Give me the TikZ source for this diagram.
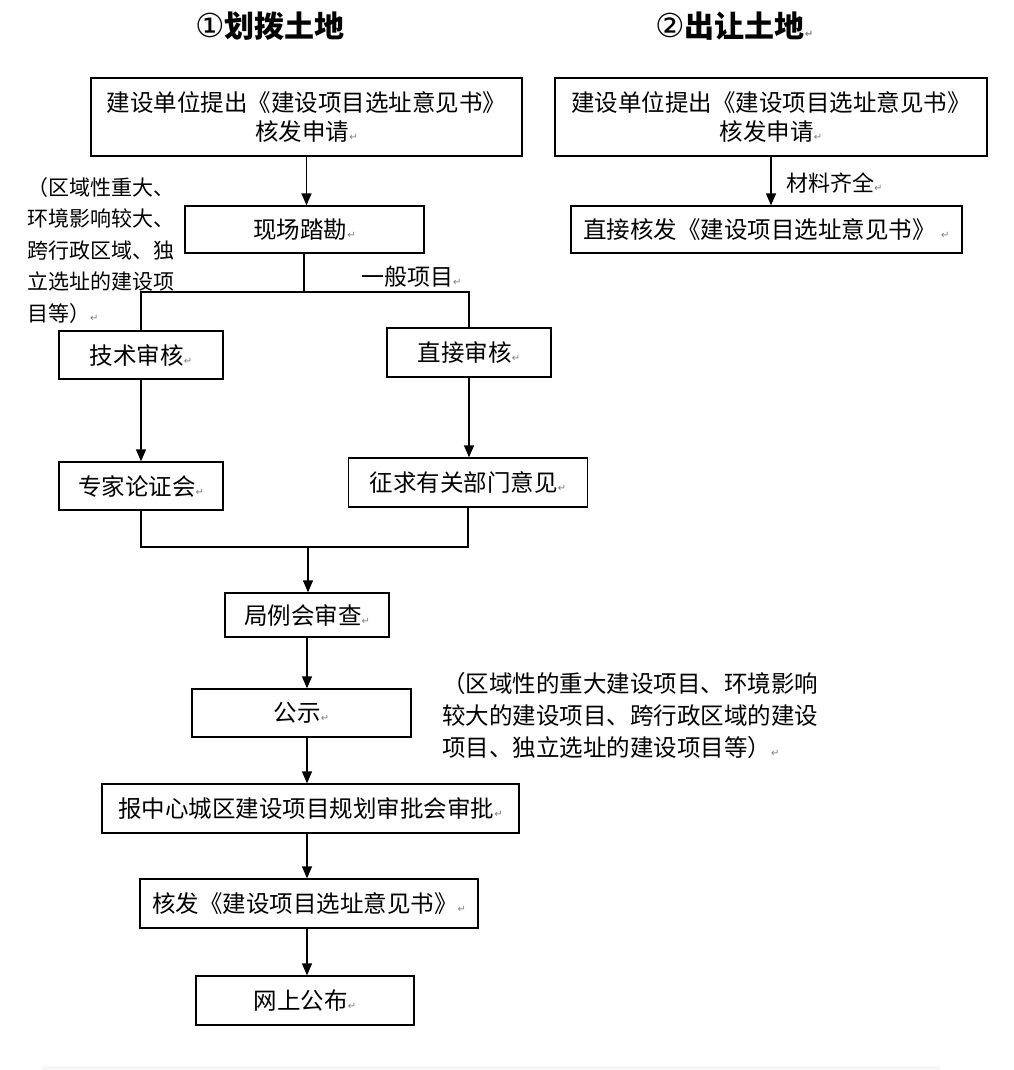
\documentclass[tikz,border=0pt]{standalone}
\usepackage{fontspec}
\setmainfont{Noto Sans CJK SC}
\newfontfamily\djv{DejaVu Sans}
\usetikzlibrary{arrows.meta}
\newcommand\rmk{{\djv\fontsize{10}{10}\selectfont\textcolor{black!50}{↵}}}
\newcommand\circnum[1]{{\djv\mdseries\fontsize{33}{33}\selectfont #1}}
\begin{document}
\begin{tikzpicture}[x=1pt,y=-1pt,
  box/.style={draw, line width=1.3pt, inner sep=0pt, align=center, font=\fontsize{23.5}{29.5}\selectfont},
  lnk/.style={line width=1.3pt},
  arr/.style={line width=1.3pt, -{Triangle[length=12pt,width=10pt]}},
  lab/.style={inner sep=0pt, anchor=west, font=\fontsize{22}{22}\selectfont},
  note/.style={inner sep=0pt, anchor=north west, align=left},
  ttl/.style={inner sep=0pt, font=\fontsize{30}{30}\selectfont\bfseries}]
\useasboundingbox (0,0) rectangle (1013,1070);
\fill[black!3] (42,1066) rectangle (940,1070);
% titles
\node[ttl] (t1) at (270,26) {\circnum{①}划拨土地};
\node[ttl, anchor=west] (t2) at (655,26) {\circnum{②}出让土地\rmk};
% left column boxes
\node[box, minimum width=431pt, minimum height=78pt] (a1) at (306.5,117) {建设单位提出《建设项目选址意见书》\\核发申请\rmk};
\node[box, minimum width=239pt, minimum height=47pt] (xc) at (304.5,229.5) {现场踏勘\rmk};
\node[box, minimum width=164pt, minimum height=48pt] (js) at (141,355) {技术审核\rmk};
\node[box, minimum width=164pt, minimum height=49pt] (zj) at (469,352.5) {直接审核\rmk};
\node[box, minimum width=164pt, minimum height=48pt] (zl) at (141,486) {专家论证会\rmk};
\node[box, minimum width=239pt, minimum height=49pt] (zq) at (468,482.5) {征求有关部门意见\rmk};
\node[box, minimum width=164pt, minimum height=44pt] (jl) at (307,615) {局例会审查\rmk};
\node[box, minimum width=219pt, minimum height=48pt] (gs) at (301.5,713) {公示\rmk};
\node[box, minimum width=417pt, minimum height=49pt] (bz) at (310.5,808.5) {报中心城区建设项目规划审批会审批\rmk};
\node[box, minimum width=338pt, minimum height=49pt] (hf) at (309,903.5) {核发《建设项目选址意见书》\rmk};
\node[box, minimum width=218pt, minimum height=49pt] (ws) at (305,1000.5) {网上公布\rmk};
% right column boxes
\node[box, minimum width=432pt, minimum height=78pt] (b1) at (771,117) {建设单位提出《建设项目选址意见书》\\核发申请\rmk};
\node[box, minimum width=391pt, minimum height=47pt] (b2) at (766.5,229.5) {直接核发《建设项目选址意见书》 \rmk};
% labels and notes
\node[lab] (cl) at (786,183) {材料齐全\rmk};
\node[lab, font=\fontsize{23}{23}\selectfont] (yb) at (361,277) {一般项目\rmk};
\node[note, font=\fontsize{21}{31.5}\selectfont] (ln) at (27,177) {（区域性重大、\\环境影响较大、\\跨行政区域、独\\立选址的建设项\\目等）\rmk};
\node[note, font=\fontsize{23.5}{32}\selectfont] (rn) at (442,672) {（区域性的重大建设项目、环境影响\\较大的建设项目、跨行政区域的建设\\项目、独立选址的建设项目等）\rmk};
% coordinates
\coordinate (sp) at (304,292);
\coordinate (mg) at (308,547);
% connectors
\draw[arr] (a1.south) -- (a1.south |- xc.north);
\draw[arr] (b1.south) -- (b1.south |- b2.north);
\draw[lnk] (xc.south -| sp) -- (sp);
\draw[lnk] (js.north) -- (js.north |- sp) -- (zj.north |- sp) -- (zj.north);
\draw[arr] (js.south) -- (zl.north);
\draw[arr] (zj.south) -- (zj.south |- zq.north);
\draw[lnk] (zl.south) -- (zl.south |- mg) -- (zq.south |- mg) -- (zq.south);
\draw[arr] (mg) -- (mg |- jl.north);
\draw[arr] (jl.south) -- (jl.south |- gs.north);
\draw[arr] (gs.south -| jl.south) -- (jl.south |- bz.north);
\draw[arr] (bz.south -| jl.south) -- (jl.south |- hf.north);
\draw[arr] (hf.south -| jl.south) -- (jl.south |- ws.north);
\end{tikzpicture}
\end{document}
